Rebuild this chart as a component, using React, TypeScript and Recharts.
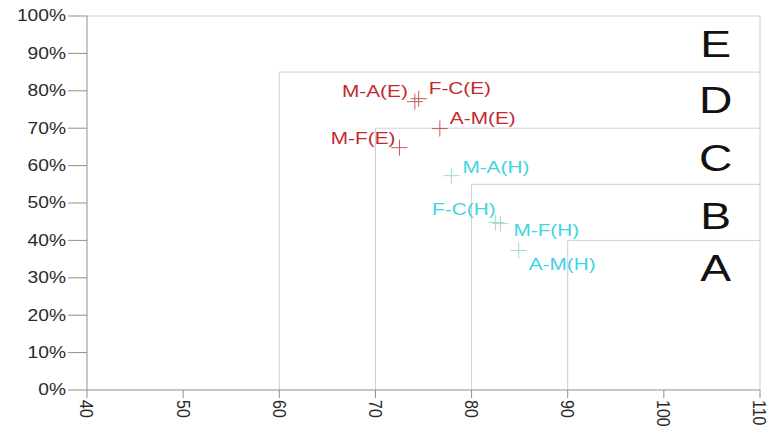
import React from 'react';
import { ScatterChart, Scatter, XAxis, YAxis, ReferenceLine } from 'recharts';

// points
const pointNames = ['M-A(E)', 'F-C(E)', 'A-M(E)', 'M-F(E)', 'M-A(H)', 'F-C(H)', 'M-F(H)', 'A-M(H)'];
const pointX = [74.1, 74.5, 76.7, 72.5, 77.9, 82.5, 83.0, 84.9];
const pointY = [77.1, 77.9, 69.9, 64.8, 57.3, 44.8, 44.5, 37.3];
const pointGroup = ['E', 'E', 'E', 'E', 'H', 'H', 'H', 'H'];

// zones
const zoneNames = ['E', 'D', 'C', 'B', 'A'];
const zoneLabelX = [105.4, 105.4, 105.4, 105.4, 105.4];
const zoneLabelY = [92.5, 77.6, 62.1, 46.4, 32.5];
const boundaryX = [60, 70, 80, 90];
const boundaryY = [85, 70, 55, 40];

const xTicks = [40, 50, 60, 70, 80, 90, 100, 110];
const yTicks = [0, 10, 20, 30, 40, 50, 60, 70, 80, 90, 100];

// label placement around each cross: [anchor, dx, dy]
const labelPlacement: Record<string, [string, number, number]> = {
  'M-A(E)': ['end', -7, -5],
  'F-C(E)': ['start', 10, -5],
  'A-M(E)': ['start', 10, -5],
  'M-F(E)': ['end', -4, -4],
  'M-A(H)': ['start', 11, -3],
  'F-C(H)': ['end', 0, -7],
  'M-F(H)': ['start', 13, 12],
  'A-M(H)': ['start', 10, 20],
};

const FONT = '"Liberation Sans", Arial, sans-serif';
const GRID = '#cfcfcf';

const points = pointNames.map((name, i) => ({ name, x: pointX[i], y: pointY[i], group: pointGroup[i] }));
const zones = zoneNames.map((name, i) => ({ name, x: zoneLabelX[i], y: zoneLabelY[i] }));

const Cross = (props: any) => {
  const { cx, cy, payload } = props;
  const isE = payload.group === 'E';
  const stroke = isE ? '#c25a5a' : '#9fdccb';
  const color = isE ? '#c3282e' : '#3ed4e4';
  const [anchor, dx, dy] = labelPlacement[payload.name];
  return (
    <g>
      <line x1={cx - 8} y1={cy} x2={cx + 8} y2={cy} stroke={stroke} strokeWidth={1} />
      <line x1={cx} y1={cy - 8} x2={cx} y2={cy + 8} stroke={stroke} strokeWidth={1} />
      <text
        transform={`translate(${cx + dx},${cy + dy}) scale(1.3,1)`}
        textAnchor={anchor}
        fontSize={16}
        fontFamily={FONT}
        fill={color}
      >
        {payload.name}
      </text>
    </g>
  );
};

const ZoneLetter = (props: any) => {
  const { cx, cy, payload } = props;
  return (
    <text
      transform={`translate(${cx},${cy}) scale(1.25,1)`}
      textAnchor="middle"
      dominantBaseline="central"
      fontSize={37}
      fontFamily={FONT}
      fill="#111"
    >
      {payload.name}
    </text>
  );
};

const YTick = (props: any) => {
  const { x, y, payload } = props;
  return (
    <text
      transform={`translate(${x},${y}) scale(1.2,1)`}
      textAnchor="end"
      dominantBaseline="central"
      fontSize={16}
      fontFamily={FONT}
      fill="#2a2a2a"
    >
      {payload.value}%
    </text>
  );
};

const XTick = (props: any) => {
  const { x, y, payload } = props;
  return (
    <text
      transform={`translate(${x},${y}) rotate(90) scale(1,1.2)`}
      textAnchor="start"
      dominantBaseline="central"
      fontSize={16}
      fontFamily={FONT}
      fill="#2a2a2a"
    >
      {payload.value}
    </text>
  );
};

export default function App() {
  return (
    <div style={{ position: 'absolute', left: 0, top: 0, width: 767, height: 432, background: '#fff' }}>
      <ScatterChart width={767} height={432} margin={{ top: 16, right: 7, bottom: 0, left: 0 }}>
        <XAxis
          type="number"
          dataKey="x"
          domain={[40, 110]}
          ticks={xTicks}
          interval={0}
          height={42}
          tickSize={8}
          tickMargin={2}
          stroke="#8f8f8f"
          tick={<XTick />}
          allowDataOverflow
        />
        <YAxis
          type="number"
          dataKey="y"
          domain={[0, 100]}
          ticks={yTicks}
          interval={0}
          width={87}
          tickSize={19}
          tickMargin={2}
          stroke="#8f8f8f"
          tick={<YTick />}
          allowDataOverflow
        />
        <ReferenceLine y={100} stroke={GRID} />
        <ReferenceLine x={110} stroke={GRID} />
        {boundaryX.map((bx, i) => (
          <ReferenceLine
            key={`v-${i}`}
            segment={[{ x: bx, y: 0 }, { x: bx, y: boundaryY[i] }]}
            stroke={GRID}
          />
        ))}
        {boundaryX.map((bx, i) => (
          <ReferenceLine
            key={`h-${i}`}
            segment={[{ x: bx, y: boundaryY[i] }, { x: 110, y: boundaryY[i] }]}
            stroke={GRID}
          />
        ))}
        <Scatter data={zones} shape={<ZoneLetter />} isAnimationActive={false} />
        <Scatter data={points} shape={<Cross />} isAnimationActive={false} />
      </ScatterChart>
    </div>
  );
}
